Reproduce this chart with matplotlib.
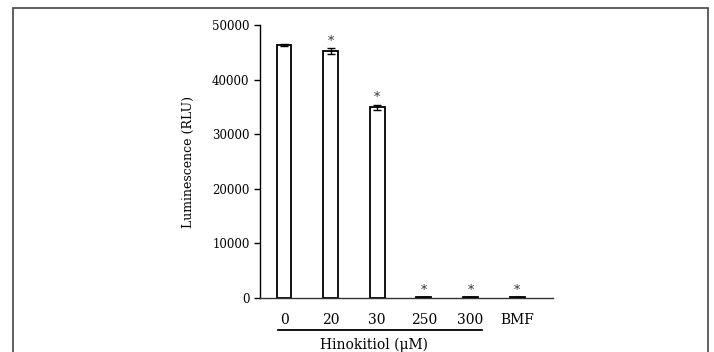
import numpy as np
import matplotlib.pyplot as plt
from matplotlib.patches import Rectangle
import matplotlib.transforms as mtransforms

plt.rcParams['font.family'] = 'DejaVu Serif'

labels = ['0', '20', '30', '250', '300', 'BMF']
values = [46300, 45200, 34900, 100, 100, 100]
errors = [200, 500, 500, 0, 0, 0]
signif = [False, True, True, True, True, True]

fig = plt.figure(figsize=(7.14, 3.52), dpi=100)
# frame round the figure (bottom edge falls outside the image)
fig.patches.append(Rectangle((13 / 714, -0.05), (708 - 13) / 714, 1 - 8 / 352 + 0.05,
                             transform=fig.transFigure, fill=False,
                             edgecolor='#444444', linewidth=1.2))

ax = fig.add_axes([260 / 714, 1 - 298 / 352, (553 - 260) / 714, (298 - 25) / 352])
x = np.arange(len(labels))
ax.bar(x, values, width=0.32, color='white', edgecolor='black', linewidth=1.3,
       yerr=errors, error_kw=dict(ecolor='black', elinewidth=1, capsize=3, capthick=1))

for xi, v, e, s in zip(x, values, errors, signif):
    if s:
        ax.annotate('*', (xi, v + e), xytext=(0, 0.5), textcoords='offset points',
                    ha='center', va='bottom', fontsize=9, color='#333333')

ax.set_xlim(-0.515, 5.77)
ax.set_ylim(0, 50000)
ax.set_yticks(np.arange(0, 50001, 10000))
ax.set_xticks(x)
ax.set_xticklabels(labels, fontsize=10)
ax.tick_params(axis='x', length=0, pad=11)
ax.tick_params(axis='y', labelsize=8.5, direction='out', length=4, width=1)
ax.spines['top'].set_visible(False)
ax.spines['right'].set_visible(False)
ax.spines['left'].set_linewidth(1)
ax.spines['bottom'].set_linewidth(1)
ax.spines['bottom'].set_color('#333333')

trans = mtransforms.blended_transform_factory(ax.transData, ax.transAxes)
ax.plot([-0.13, 4.25], [-0.117, -0.117], color='black', lw=1.3,
        transform=trans, clip_on=False)
ax.text(1.93, -0.172, 'Hinokitiol (\u03bcM)', transform=trans, ha='center',
        va='center', fontsize=10)

ax.set_ylabel('Luminescence (RLU)', fontsize=9, labelpad=12)

fig.savefig('out.png', dpi=100)
